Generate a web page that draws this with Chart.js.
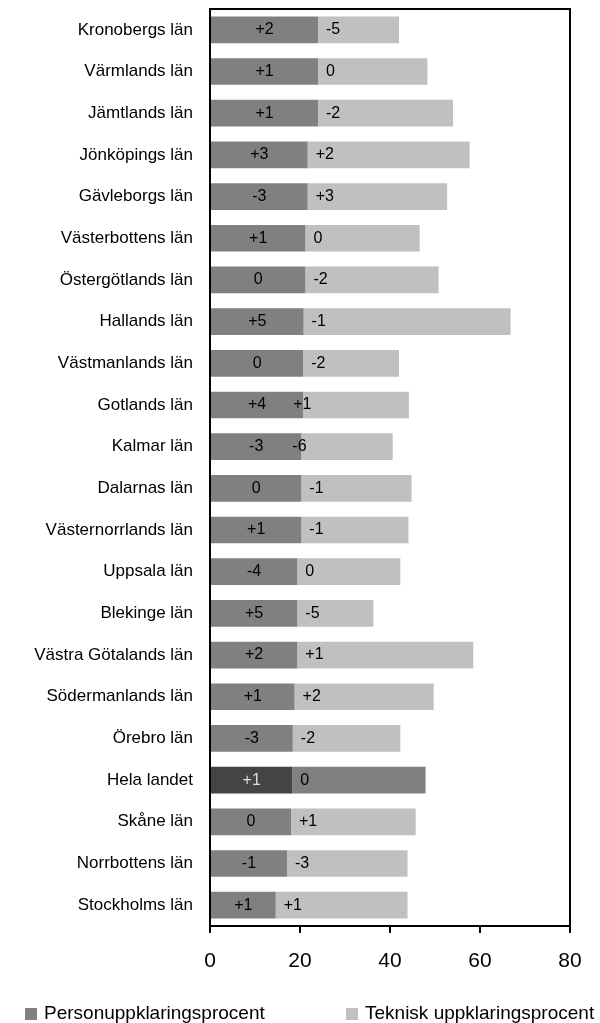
<!DOCTYPE html>
<html lang="sv">
<head>
<meta charset="utf-8">
<title>Uppklaringsprocent per län</title>
<script src="https://cdn.jsdelivr.net/npm/chart.js@4"></script>
<style>
	body { margin: 0; background: #ffffff; font-family: "Liberation Sans", Arial, sans-serif; }
	#wrap { position: relative; width: 600px; height: 1023px; }
	#legend { position: absolute; left: 0; top: 1003px; width: 600px; height: 20px; }
	.item { position: absolute; top: 0; font-size: 19px; line-height: 20px; color: #000; white-space: nowrap; }
	.item .box { display: inline-block; width: 12px; height: 12px; margin-right: 7px; vertical-align: -1px; }
</style>
</head>
<body>
<div id="wrap">
	<canvas id="chart" width="600" height="1023"></canvas>
	<div id="legend"></div>
</div>
<script>
const counties = [
	"Kronobergs län", "Värmlands län", "Jämtlands län", "Jönköpings län", "Gävleborgs län",
	"Västerbottens län", "Östergötlands län", "Hallands län", "Västmanlands län", "Gotlands län",
	"Kalmar län", "Dalarnas län", "Västernorrlands län", "Uppsala län", "Blekinge län",
	"Västra Götalands län", "Södermanlands län", "Örebro län", "Hela landet", "Skåne län",
	"Norrbottens län", "Stockholms län"
];

// uppklaringsprocent (stacked: person first, teknisk on top of it)
const personPct = [24.0, 24.0, 24.0, 21.7, 21.7, 21.2, 21.2, 20.8, 20.7, 20.7, 20.3, 20.3, 20.3, 19.4, 19.4, 19.4, 18.8, 18.4, 18.3, 18.0, 17.1, 14.6];
const tekniskPct = [18.0, 24.3, 30.0, 36.0, 31.0, 25.4, 29.6, 46.0, 21.3, 23.5, 20.3, 24.5, 23.8, 22.9, 16.9, 39.1, 30.9, 23.9, 29.6, 27.7, 26.8, 29.3];

// change in percentage points, written on the bars
const personChange = ["+2", "+1", "+1", "+3", "-3", "+1", "0", "+5", "0", "+4", "-3", "0", "+1", "-4", "+5", "+2", "+1", "-3", "+1", "0", "-1", "+1"];
const tekniskChange = ["-5", "0", "-2", "+2", "+3", "0", "-2", "-1", "-2", "+1", "-6", "-1", "-1", "0", "-5", "+1", "+2", "-2", "0", "+1", "-3", "+1"];

const xTicks = [0, 20, 40, 60, 80];

const FONT = "'Liberation Sans', Arial, sans-serif";
Chart.defaults.font.family = FONT;
Chart.defaults.color = "#000000";

const isTotal = name => name === "Hela landet";
const personColors = counties.map(c => isTotal(c) ? "#444444" : "#808080");
const tekniskColors = counties.map(c => isTotal(c) ? "#808080" : "#c0c0c0");

// a couple of labels sit further left in the original layout
const tekniskNudge = { "Gotlands län": -18, "Kalmar län": -17 };

const barLabels = {
	id: "barLabels",
	afterDatasetsDraw(chart) {
		const ctx = chart.ctx;
		ctx.save();
		ctx.font = `16px ${FONT}`;
		ctx.textBaseline = "middle";
		chart.getDatasetMeta(0).data.forEach((bar, i) => {
			ctx.textAlign = "center";
			ctx.fillStyle = isTotal(counties[i]) ? "#dddddd" : "#000000";
			ctx.fillText(personChange[i], (bar.base + bar.x) / 2, bar.y);
		});
		chart.getDatasetMeta(1).data.forEach((bar, i) => {
			ctx.textAlign = "left";
			ctx.fillStyle = "#000000";
			ctx.fillText(tekniskChange[i], bar.base + 8 + (tekniskNudge[counties[i]] || 0), bar.y);
		});
		ctx.restore();
	}
};

// black box round the plot area
const plotFrame = {
	id: "plotFrame",
	afterDraw(chart) {
		const { left, right, top, bottom } = chart.chartArea;
		const ctx = chart.ctx;
		ctx.save();
		ctx.strokeStyle = "#000000";
		ctx.lineWidth = 2;
		ctx.beginPath();
		ctx.moveTo(left, top);
		ctx.lineTo(right, top);
		ctx.lineTo(right, bottom);
		ctx.stroke();
		ctx.restore();
	}
};

const chart = new Chart(document.getElementById("chart"), {
	type: "bar",
	data: {
		labels: counties,
		datasets: [
			{ label: "Personuppklaringsprocent", data: personPct, backgroundColor: personColors, legendColor: "#808080" },
			{ label: "Teknisk uppklaringsprocent", data: tekniskPct, backgroundColor: tekniskColors, legendColor: "#c0c0c0" }
		]
	},
	options: {
		indexAxis: "y",
		responsive: false,
		animation: false,
		barPercentage: 0.64,
		categoryPercentage: 1,
		layout: { padding: { top: 9, right: 30, bottom: 0, left: 0 } },
		plugins: {
			legend: { display: false },
			tooltip: { enabled: false }
		},
		scales: {
			x: {
				stacked: true,
				min: 0,
				max: 80,
				afterBuildTicks: scale => { scale.ticks = xTicks.map(v => ({ value: v })); },
				afterFit: scale => { scale.height = 97; },
				grid: { drawOnChartArea: false, tickLength: 7, color: "#000000", lineWidth: 2 },
				border: { color: "#000000", width: 2 },
				ticks: { font: { size: 21 }, padding: 16, maxRotation: 0 }
			},
			y: {
				stacked: true,
				afterFit: scale => {
					scale.width = 210;
					scale.paddingTop = 0;
					scale.paddingBottom = 0;
				},
				grid: { display: false },
				border: { color: "#000000", width: 2 },
				ticks: { font: { size: 17 }, padding: 9, autoSkip: false }
			}
		}
	},
	plugins: [barLabels, plotFrame]
});

// legend under the chart, spread out like the original
const legendPos = [25, 346];
const legendEl = document.getElementById("legend");
chart.data.datasets.forEach((ds, i) => {
	const item = document.createElement("span");
	item.className = "item";
	item.style.left = legendPos[i] + "px";
	item.innerHTML = `<span class="box" style="background:${ds.legendColor}"></span>${ds.label}`;
	legendEl.appendChild(item);
});
</script>
</body>
</html>
